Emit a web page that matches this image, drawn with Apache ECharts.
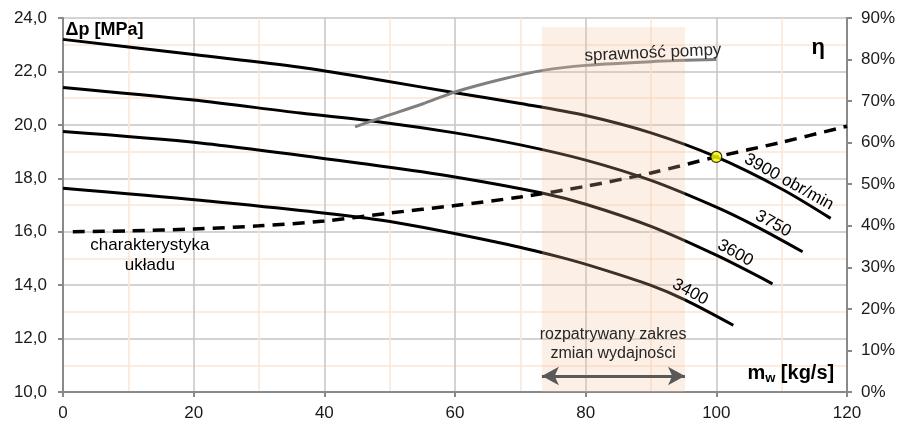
<!DOCTYPE html>
<html>
<head>
    <meta charset="utf-8">
    <title>ECharts</title>
    <script src="https://cdn.jsdelivr.net/npm/echarts@6/dist/echarts.min.js"></script>
</head>
<body style="margin:0">
<div id="main" style="width:904px;height:425px;"></div>
<script type="text/javascript">
    // dane: [m_w, dp]
    var n3900 = [[0, 23.2], [20, 22.63], [36.3, 22.16], [48.5, 21.68], [60, 21.2], [70, 20.8], [80, 20.35], [90, 19.7], [100, 18.8], [110, 17.6], [117.5, 16.5]];
    var n3750 = [[0, 21.4], [20, 20.93], [36.3, 20.44], [48.5, 20.11], [60, 19.7], [70, 19.25], [80, 18.68], [90, 17.92], [100, 16.92], [106, 16.21], [113.2, 15.25]];
    var n3600 = [[0, 19.75], [21, 19.32], [48.5, 18.46], [60, 18.05], [73.3, 17.45], [80, 17.03], [90, 16.2], [100, 15.12], [108.6, 14.05]];
    var n3400 = [[0, 17.63], [21, 17.18], [48.5, 16.44], [67, 15.58], [76.1, 15.05], [82.2, 14.62], [89.9, 14.0], [95.2, 13.45], [102.6, 12.5]];
    var uklad = [[1.5, 16.0], [10, 16.03], [20, 16.1], [30, 16.22], [40, 16.4], [50, 16.7], [60, 16.98], [70, 17.3], [80, 17.7], [90, 18.2], [100, 18.8], [110, 19.35], [120, 19.95]];
    var sprawnosc = [[44.7, 63.8], [48.5, 65.9], [55, 69.3], [60, 72.2], [67, 75.2], [73.5, 77.4], [80, 78.6], [90, 79.5], [100, 80.0]];
    var punktPracy = [[100, 18.8]];
    var zakres = [73.3, 95.2];

    var myChart = echarts.init(document.getElementById('main'));

    function krzywa(dane) {
        return {
            type: 'line', data: dane, smooth: 0.3, symbol: 'none', silent: true,
            lineStyle: { color: '#000', width: 3 }
        };
    }

    var seria = [krzywa(n3900), krzywa(n3750), krzywa(n3600), krzywa(n3400)];
    seria.push({
        type: 'line', data: uklad, smooth: 0.3, symbol: 'none', silent: true,
        lineStyle: { color: '#000', width: 3.5, type: [12, 8] }
    });
    seria.push({
        type: 'line', data: sprawnosc, yAxisIndex: 1, smooth: 0.3, symbol: 'none', silent: true,
        lineStyle: { color: '#808080', width: 3 }
    });
    // zakres wydajnosci - polprzezroczysty prostokat nad liniami
    seria.push({
        type: 'line', data: [], z: 5, silent: true,
        markArea: {
            silent: true, z: 5,
            itemStyle: { color: 'rgb(243,191,155)', opacity: 0.25 },
            data: [[{ xAxis: zakres[0], yAxis: 10 }, { xAxis: zakres[1], yAxis: 23.66 }]]
        },
        markLine: {
            silent: true,
            symbol: ['arrow', 'arrow'],
            symbolSize: [14, 17],
            label: { show: false },
            lineStyle: { color: '#595959', width: 3, type: 'solid' },
            data: [[{ coord: [zakres[0], 10.6] }, { coord: [zakres[1], 10.6] }]]
        }
    });
    seria.push({
        type: 'scatter', data: punktPracy, z: 6, symbolSize: 11, silent: true,
        itemStyle: { color: '#ffff00', borderColor: '#000', borderWidth: 1.2 }
    });

    var option = {
        animation: false,
        grid: { left: 63, right: 57, top: 18, bottom: 33 },
        xAxis: {
            type: 'value', min: 0, max: 120, interval: 20,
            axisLine: { lineStyle: { color: '#898989', width: 2 } },
            axisTick: { show: true, length: 5, lineStyle: { color: '#898989', width: 2 } },
            axisLabel: { color: '#1a1a1a', fontSize: 17, fontFamily: 'Arial', margin: 13 },
            splitLine: { lineStyle: { color: '#c4c4c4', width: 1.5 } },
            minorTick: { show: false, splitNumber: 2 },
            minorSplitLine: { show: true, lineStyle: { color: '#fde6d4', width: 1.5 } }
        },
        yAxis: [{
            type: 'value', min: 10, max: 24, interval: 2,
            axisLine: { show: true, lineStyle: { color: '#898989', width: 2 } },
            axisTick: { show: true, length: 5, lineStyle: { color: '#898989', width: 2 } },
            axisLabel: {
                color: '#1a1a1a', fontSize: 17, fontFamily: 'Arial', margin: 16,
                formatter: function (v) { return v.toFixed(1).replace('.', ','); }
            },
            splitLine: { lineStyle: { color: '#c4c4c4', width: 1.5 } },
            minorTick: { show: false, splitNumber: 2 },
            minorSplitLine: { show: true, lineStyle: { color: '#fde6d4', width: 1.5 } }
        }, {
            type: 'value', min: 0, max: 90, interval: 10, position: 'right',
            axisLine: { show: true, lineStyle: { color: '#898989', width: 2 } },
            axisTick: { show: true, length: 5, lineStyle: { color: '#898989', width: 2 } },
            axisLabel: { color: '#1a1a1a', fontSize: 17, fontFamily: 'Arial', margin: 14, formatter: '{value}%' },
            splitLine: { show: false }
        }],
        series: seria
    };
    myChart.setOption(option);

    // opisy na wykresie (wspolrzedne w jednostkach osi)
    var opisy = [
        { p: [0.4, 23.55], t: 'Δp [MPa]', font: 'bold 18px Arial', align: 'left' },
        { p: [115.6, 22.88], t: 'η', font: 'bold 22px Arial' },
        { p: [90.3, 22.69], t: 'sprawność pompy', font: '17px Arial', fill: '#262626', rot: 2.5 },
        { p: [111.1, 17.86], t: '3900 obr/min', font: '17px Arial', rot: -29 },
        { p: [108.7, 16.3], t: '3750', font: '17px Arial', rot: -29 },
        { p: [102.9, 15.2], t: '3600', font: '17px Arial', rot: -29 },
        { p: [96.0, 13.74], t: '3400', font: '17px Arial', rot: -28 },
        { p: [13.3, 15.13], t: 'charakterystyka\nukładu', font: '17px Arial', lh: 20 },
        { p: [84.2, 11.8], t: 'rozpatrywany zakres\nzmian wydajności', font: '16px Arial', fill: '#262626', lh: 19 }
    ];
    var grafika = opisy.map(function (o) {
        var px = myChart.convertToPixel({ gridIndex: 0 }, o.p);
        return {
            type: 'text', x: px[0], y: px[1], z: 100,
            rotation: (o.rot || 0) * Math.PI / 180,
            style: {
                text: o.t, font: o.font, fill: o.fill || '#000',
                align: o.align || 'center', verticalAlign: 'middle', lineHeight: o.lh
            }
        };
    });
    var pm = myChart.convertToPixel({ gridIndex: 0 }, [111.4, 10.7]);
    grafika.push({
        type: 'text', x: pm[0], y: pm[1], z: 100,
        style: {
            text: '{m|m}{s|w}{m| [kg/s]}', align: 'center', verticalAlign: 'middle',
            rich: {
                m: { font: 'bold 20px Arial', fill: '#000', lineHeight: 24, verticalAlign: 'middle' },
                s: { font: 'bold 13px Arial', fill: '#000', lineHeight: 24, verticalAlign: 'bottom', padding: [9, 0, 0, 0] }
            }
        }
    });
    myChart.setOption({ graphic: grafika });
</script>
</body>
</html>
